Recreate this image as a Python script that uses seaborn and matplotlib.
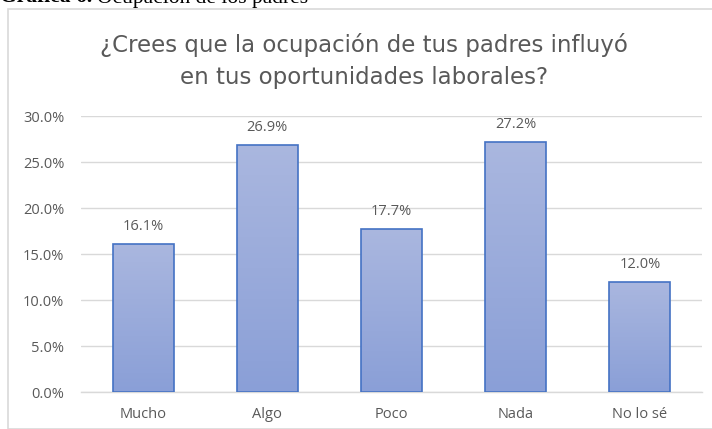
import numpy as np
import pandas as pd
import matplotlib
matplotlib.use("Agg")
import matplotlib.pyplot as plt
import seaborn as sns
from matplotlib.patches import Rectangle
from matplotlib.colors import LinearSegmentedColormap

categories = ["Mucho", "Algo", "Poco", "Nada", "No lo sé"]
values = [16.1, 26.9, 17.7, 27.2, 12.0]
yticks = [0, 5, 10, 15, 20, 25, 30]
title = "¿Crees que la ocupación de tus padres influyó\nen tus oportunidades laborales?"

sns.set_theme(style="white")
plt.rcParams["font.family"] = ["Open Sans", "DejaVu Sans"]

W, H = 712, 429
fig = plt.figure(figsize=(W / 100, H / 100), dpi=100)

# chart border
fig.patches.append(Rectangle((8 / W, 0), 1, 1 - 9 / H, transform=fig.transFigure,
                             fill=False, edgecolor="#D9D9D9", linewidth=1.2))

# cut-off caption at the top
renderer = fig.canvas.get_renderer()
t1 = fig.text(0 / W, 1 - 2.5 / H, "Gráfica 6.", family="Liberation Serif", weight="bold",
              fontsize=15.5, color="black", va="baseline", ha="left")
bb = t1.get_window_extent(renderer)
fig.text((bb.x1 + 5) / W, 1 - 2.5 / H, "Ocupación de los padres", family="Liberation Serif",
         fontsize=15.5, color="black", va="baseline", ha="left")

ax = fig.add_axes([81 / W, 1 - 392 / H, (702 - 81) / W, (392 - 116) / H])
df = pd.DataFrame({"cat": categories, "val": values})
sns.barplot(data=df, x="cat", y="val", ax=ax, width=0.49, color="#97AADC",
            edgecolor="#4472C4", linewidth=1.2, zorder=3)

cmap = LinearSegmentedColormap.from_list("g", ["#8A9FD7", "#AAB7DF"])
grad = np.linspace(0, 1, 256).reshape(-1, 1)
for p in ax.patches:
    x0, y0 = p.get_x(), p.get_y()
    w, h = p.get_width(), p.get_height()
    im = ax.imshow(grad, cmap=cmap, origin="lower", aspect="auto",
                   extent=[x0, x0 + w, y0, y0 + h], zorder=2.5)
    im.set_clip_path(p)
    p.set_facecolor("none")

ax.set_xlim(-0.5, len(categories) - 0.5)
ax.set_ylim(0, 30)
ax.set_yticks(yticks)
ax.set_yticklabels([f"{t:.1f}%" for t in yticks])
ax.yaxis.grid(True, color="#D9D9D9", linewidth=1, zorder=0)
ax.set_axisbelow(True)
for s in ["top", "right", "left"]:
    ax.spines[s].set_visible(False)
ax.spines["bottom"].set_color("#D9D9D9")
ax.spines["bottom"].set_linewidth(1)
ax.tick_params(axis="y", length=0, pad=12, labelsize=10.5, labelcolor="#595959")
ax.tick_params(axis="x", length=0, pad=11, labelsize=10.5, labelcolor="#595959")
ax.set_xlabel("")
ax.set_ylabel("")

for i, v in enumerate(values):
    ax.annotate(f"{v:.1f}%", (i, v), xytext=(0, 7), textcoords="offset points",
                ha="center", va="bottom", fontsize=10.5, color="#595959")

fig.text(364 / W, 1 - 61 / H, title, ha="center", va="center", fontsize=16.5,
         family="DejaVu Sans", color="#595959", linespacing=1.5)

fig.savefig("out.png", dpi=100)
